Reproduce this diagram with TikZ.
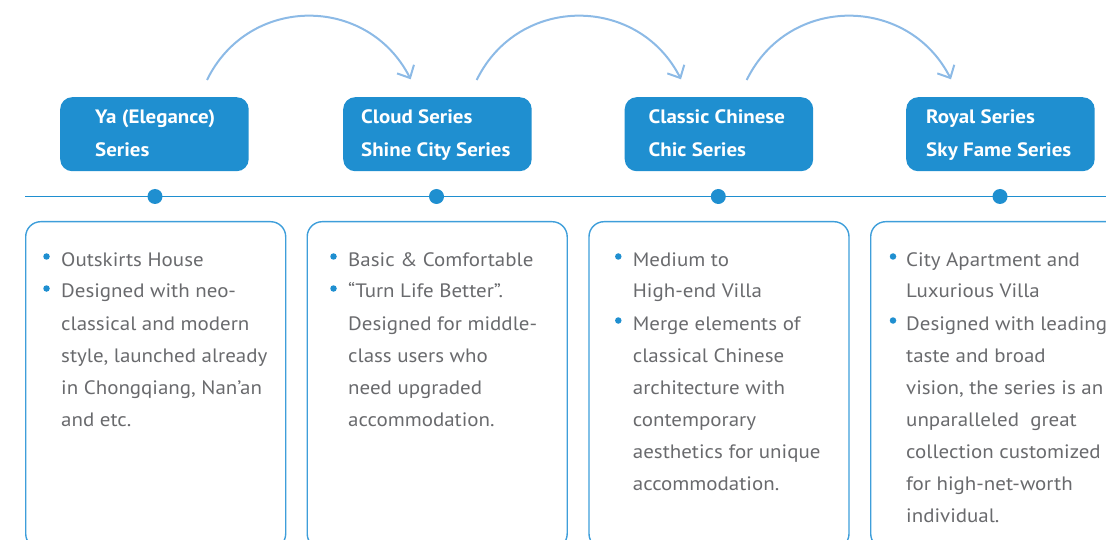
\documentclass[tikz,border=0pt]{standalone}
\usepackage{fontspec}
\setmainfont{PT Sans}[FakeStretch=1.08]
\usetikzlibrary{arrows.meta}
\definecolor{hdrblue}{RGB}{31,143,208}
\definecolor{linkblue}{RGB}{140,186,230}
\definecolor{boxline}{RGB}{62,158,218}
\definecolor{txtgray}{RGB}{105,106,109}
\begin{document}
\begin{tikzpicture}[x=1pt,y=-1pt,
  hdr/.style={fill=hdrblue, rounded corners=12pt, minimum width=188.5pt, minimum height=74pt, anchor=north west, inner sep=0pt},
  hdrtxt/.style={anchor=base west, inner sep=0pt, text=white, font=\fontsize{19.4}{22}\selectfont\bfseries},
  cbox/.style={draw=boxline, line width=1.4pt, rounded corners=15pt, minimum width=260pt, minimum height=327pt, anchor=north west, inner sep=0pt},
  body/.style={anchor=base west, inner sep=0pt, text=txtgray, font=\fontsize{19.4}{22}\selectfont},
  bul/.style={circle, fill=hdrblue, inner sep=0pt, minimum size=6.5pt},
  tdot/.style={circle, fill=hdrblue, inner sep=0pt, minimum size=15pt},
  link/.style={draw=linkblue, line width=2pt, -{Straight Barb[length=10pt,width=19pt]}}
]
\useasboundingbox (0,0) rectangle (1106,540);
\begin{scope}
\clip (0,0) rectangle (1106,540);

% header boxes
\node[hdr] (h1) at (60,97) {};
\node[hdr] (h2) at (343,97) {};
\node[hdr] (h3) at (624.5,97) {};
\node[hdr] (h4) at (906,97) {};
\node[hdrtxt] (h1a) at (95,124) {Ya (Elegance)};
\node[hdrtxt] (h1b) at (95,157) {Series};
\node[hdrtxt] (h2a) at (361,124) {Cloud Series};
\node[hdrtxt] (h2b) at (361,157) {Shine City Series};
\node[hdrtxt] (h3a) at (648.5,124) {Classic Chinese};
\node[hdrtxt] (h3b) at (648.5,157) {Chic Series};
\node[hdrtxt] (h4a) at (926,124) {Royal Series};
\node[hdrtxt] (h4b) at (926,157) {Sky Fame Series};

% arcs
\coordinate (s1) at (207,80);   \coordinate (e1) at (410.7,79.3);
\coordinate (s2) at (476.7,80); \coordinate (e2) at (681,79.3);
\coordinate (s3) at (746.7,80); \coordinate (e3) at (951,79.3);
\draw[link] (s1) .. controls +(41.6,-85.3) and +(-43.1,-84.6) .. (e1);
\draw[link] (s2) .. controls +(41.6,-85.3) and +(-43.1,-84.6) .. (e2);
\draw[link] (s3) .. controls +(41.6,-85.3) and +(-43.1,-84.6) .. (e3);

% timeline
\coordinate (tlL) at (25,196.5);
\coordinate (tlR) at (1106,196.5);
\draw[hdrblue, line width=1.4pt] (tlL) -- (tlR);
\node[tdot] (d1) at (155,196.5) {};
\node[tdot] (d2) at (436.5,196.5) {};
\node[tdot] (d3) at (718.3,196.5) {};
\node[tdot] (d4) at (1000,196.5) {};

% content boxes
\node[cbox] (c1) at (25,221) {};
\node[cbox] (c2) at (306.5,221) {};
\node[cbox] (c3) at (588.3,221) {};
\node[cbox] (c4) at (870,221) {};

% box 1
\foreach \t [count=\i] in {Outskirts House, Designed with neo-, classical and modern, {style, launched already}, {in Chongqiang, Nan’an}, and etc.}
  \node[body] (a\i) at (61,{266+32*(\i-1)}) {\t};
\node[bul] (a1b) at (46.5,256.5) {};
\node[bul] (a2b) at (46.5,288.5) {};

% box 2
\foreach \t [count=\i] in {Basic \& Comfortable, “Turn Life Better”., Designed for middle-, class users who, need upgraded, accommodation.}
  \node[body] (b\i) at (348,{266+32*(\i-1)}) {\t};
\node[bul] (b1b) at (333.5,256.5) {};
\node[bul] (b2b) at (333.5,288.5) {};

% box 3
\foreach \t [count=\i] in {Medium to, High-end Villa, Merge elements of, classical Chinese, architecture with, contemporary, aesthetics for unique, accommodation.}
  \node[body] (c\i) at (632.7,{266+32*(\i-1)}) {\t};
\node[bul] (c1b) at (618.3,256.5) {};
\node[bul] (c3b) at (618.3,320.5) {};

% box 4
\foreach \t [count=\i] in {City Apartment and, Luxurious Villa, Designed with leading, taste and broad, {vision, the series is an}, unparalleled\ \ great, collection customized, for high-net-worth, individual.}
  \node[body] (f\i) at (906,{266+32*(\i-1)}) {\t};
\node[bul] (f1b) at (893,256.5) {};
\node[bul] (f3b) at (893,320.5) {};
\end{scope}
\end{tikzpicture}
\end{document}
